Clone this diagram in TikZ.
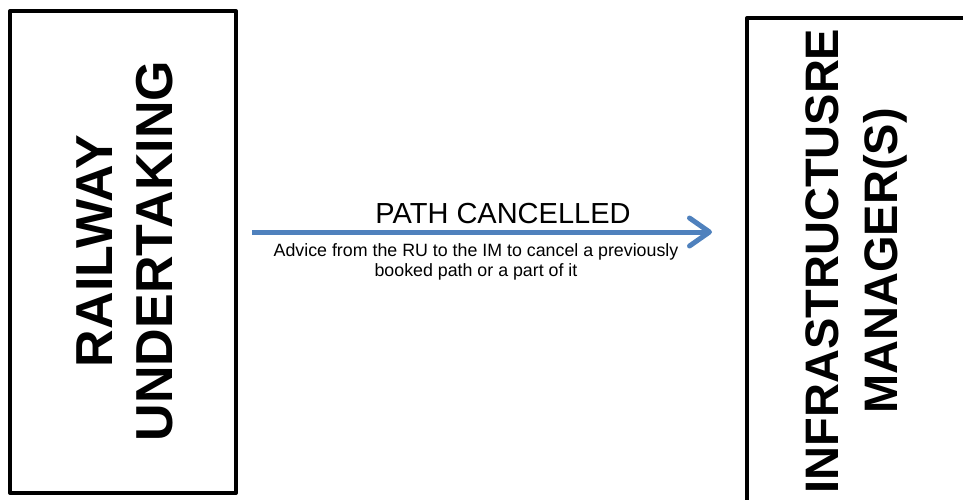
\documentclass[tikz,border=0pt]{standalone}
\usepackage{fontspec}
\setmainfont{Liberation Sans}
\usetikzlibrary{arrows.meta}
\definecolor{flowblue}{HTML}{4F81BD}
\begin{document}
\begin{tikzpicture}[x=1pt,y=-1pt,
  party/.style={draw=black,line width=4pt,line join=round},
  partytext/.style={font=\bfseries\fontsize{52}{60}\selectfont,rotate=90,align=center,inner sep=0pt},
  flow/.style={draw=flowblue,line width=5pt,-{Straight Barb[length=20pt,width=28pt,line cap=round,line join=round]}}]
  \useasboundingbox (0,0) rectangle (963,499);
  \clip (0,0) rectangle (963,499);
  % railway undertaking
  \draw[party] (10,11) rectangle (236,493);
  \node[partytext] (ru) at (125,251) {RAILWAY\\UNDERTAKING};
  % infrastructure manager, running past the page edge
  \draw[party] (747,18) rectangle (990,530);
  \node[partytext,font=\bfseries\fontsize{47}{59}\selectfont] (im) at (856,261) {INFRASTRUCTUSRE\\MANAGER(S)};
  % message
  \coordinate (from) at (252,232);
  \coordinate (to) at (712,232);
  \draw[flow] (from) -- (to);
  \node[font=\fontsize{29}{32}\selectfont,inner sep=0pt] (title) at (503,214) {PATH CANCELLED};
  \node[font=\fontsize{17.8}{20}\selectfont,align=center,inner sep=0pt] (desc) at (476,262) {Advice from the RU to the IM to cancel a previously\\booked path or a part of it};
\end{tikzpicture}
\end{document}
